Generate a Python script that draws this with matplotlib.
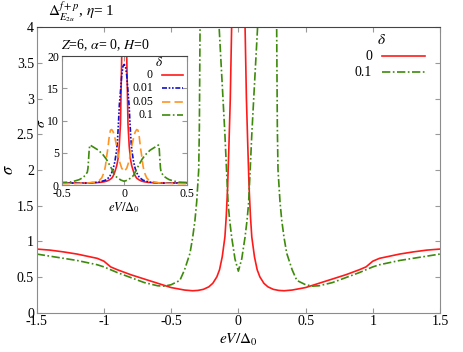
import numpy as np
import matplotlib
matplotlib.use("Agg")
import matplotlib.pyplot as plt
from matplotlib.ticker import FuncFormatter, MultipleLocator

plt.rcParams['font.family'] = ['Liberation Serif', 'DejaVu Serif']
plt.rcParams['mathtext.fontset'] = 'stix'
plt.rcParams['axes.unicode_minus'] = False

# conductance for eV/Delta0 >= 0 (curves are symmetric)
x_d0 = [0, 0.01, 0.02, 0.03, 0.04, 0.05, 0.06, 0.07, 0.08, 0.09, 0.1, 0.12, 0.14,
        0.16, 0.19, 0.22, 0.26, 0.3, 0.34, 0.4, 0.5, 0.6, 0.7, 0.8, 0.9, 0.95,
        1.0, 1.05, 1.1, 1.2, 1.3, 1.4, 1.5]
s_d0 = [80, 45, 20, 9.5, 6.0, 4.0, 3.0, 2.35, 1.75, 1.35, 1.06, 0.78, 0.6,
        0.5, 0.41, 0.36, 0.325, 0.31, 0.305, 0.315, 0.35, 0.41, 0.47, 0.53, 0.6, 0.64,
        0.72, 0.76, 0.78, 0.82, 0.85, 0.875, 0.89]

x_d001 = [0, 0.01, 0.02, 0.03, 0.039, 0.045, 0.053, 0.06, 0.075, 0.09, 0.1, 0.12,
          0.15, 0.2, 0.3, 0.4, 0.5]
s_d001 = [18.7, 18.4, 17.0, 14.5, 12.4, 10.0, 7.2, 5.5, 3.6, 2.4, 1.9, 1.2,
          0.75, 0.45, 0.3, 0.3, 0.33]

x_d005 = [0, 0.02, 0.04, 0.06, 0.08, 0.09, 0.1, 0.11, 0.12, 0.13, 0.14, 0.15,
          0.16, 0.18, 0.2, 0.25, 0.3, 0.4, 0.5]
s_d005 = [2.1, 2.6, 3.8, 6.0, 7.8, 8.3, 8.6, 8.5, 7.5, 5.8, 4.5, 3.0,
          2.0, 1.1, 0.7, 0.4, 0.3, 0.22, 0.2]

x_d01 = [0, 0.025, 0.05, 0.065, 0.076, 0.088, 0.1, 0.12, 0.143, 0.17, 0.207, 0.24,
         0.274, 0.28, 0.285, 0.29, 0.295, 0.31, 0.323, 0.34, 0.36, 0.4, 0.435, 0.5,
         0.55, 0.6, 0.7, 0.8, 0.9, 0.95, 1.0, 1.05, 1.1, 1.2, 1.3, 1.4, 1.5]
s_d01 = [0.58, 0.75, 1.06, 1.3, 1.53, 2.0, 2.5, 3.2, 4.0, 4.7, 5.4, 5.8,
         6.2, 5.6, 4.0, 2.6, 2.0, 1.55, 1.29, 1.05, 0.83, 0.6, 0.45, 0.39,
         0.37, 0.375, 0.42, 0.49, 0.56, 0.6, 0.64, 0.67, 0.69, 0.73, 0.76, 0.79, 0.82]


def both_sides(x, s):
    x = np.asarray(x, float)
    s = np.asarray(s, float)
    return np.concatenate([-x[:0:-1], x]), np.concatenate([s[:0:-1], s])


RED = '#ff1a1a'
BLUE = '#1010c8'
ORANGE = '#ff9422'
GREEN = '#3d8a0c'
styles = {
    '0': dict(color=RED, ls='-'),
    '0.01': dict(color=BLUE, dashes=(3, 1, 1, 1, 1, 1)),
    '0.05': dict(color=ORANGE, dashes=(5, 2.5)),
    '0.1': dict(color=GREEN, dashes=(5, 1.5, 1, 1.5)),
}
fmt = FuncFormatter(lambda v, p: '%g' % v)


def style_axes(ax, size):
    for side in ['left', 'bottom', 'right']:
        ax.spines[side].set_color('#8c8c8c')
    ax.spines['top'].set_color('#444444')
    ax.tick_params(direction='in', length=3.5, width=0.8, color='#999999',
                   top=True, right=True, labelsize=size, pad=2)
    ax.xaxis.set_major_formatter(fmt)
    ax.yaxis.set_major_formatter(fmt)


def manual_legend(ax, keys, x_lab, x0, x1, y_title, ys, size):
    ax.text((x_lab + x0) / 2 + 0.01, y_title, r'$\delta$', transform=ax.transAxes,
            ha='center', va='center', fontsize=size + 1)
    for k, y in zip(keys, ys):
        ax.text(x_lab, y, k, transform=ax.transAxes, ha='right', va='center', fontsize=size)
        ax.plot([x0, x1], [y, y], transform=ax.transAxes, lw=1.2, clip_on=False, **styles[k])


fig = plt.figure(figsize=(4.63, 3.52), dpi=100)

# main panel
ax = fig.add_axes([0.0793, 0.1122, 0.871, 0.810])
for k, (x, s) in [('0', (x_d0, s_d0)), ('0.1', (x_d01, s_d01))]:
    xx, ss = both_sides(x, s)
    ax.plot(xx, ss, lw=1.2, **styles[k])
ax.set_xlim(-1.5, 1.5)
ax.set_ylim(0, 4)
ax.xaxis.set_major_locator(MultipleLocator(0.5))
ax.yaxis.set_major_locator(MultipleLocator(0.5))
style_axes(ax, 10)
ax.set_xlabel(r'$eV/\Delta_0$', fontsize=11)
ax.xaxis.set_label_coords(0.5, -0.068)
ax.set_ylabel(r'$\sigma$', fontsize=12)
ax.yaxis.set_label_coords(-0.05, 0.5)
manual_legend(ax, ['0', '0.1'], 0.832, 0.856, 0.963, 0.955, [0.899, 0.843], 10)
ax.text(0.06, 0.965, r'$Z$=6, $\alpha$= 0, $H$=0', transform=ax.transAxes,
        ha='left', va='top', fontsize=10)
fig.text(0.104, 0.955, r'$\Delta^{f+p}_{E_{2u}}$, $\eta$= 1', ha='left', va='baseline', fontsize=11)

# inset
ins = fig.add_axes([0.1333, 0.4744, 0.27, 0.3665])
for k, (x, s) in [('0', (x_d0, s_d0)), ('0.01', (x_d001, s_d001)),
                  ('0.05', (x_d005, s_d005)), ('0.1', (x_d01, s_d01))]:
    xx, ss = both_sides(x, s)
    ins.plot(xx, ss, lw=1.2, **styles[k])
ins.set_xlim(-0.5, 0.5)
ins.set_ylim(0, 20)
ins.xaxis.set_major_locator(MultipleLocator(0.5))
ins.yaxis.set_major_locator(MultipleLocator(5))
style_axes(ins, 8.5)
ins.set_xlabel(r'$eV/\Delta_0$', fontsize=9)
ins.xaxis.set_label_coords(0.5, -0.115)
ins.set_ylabel(r'$\sigma$', fontsize=10)
ins.yaxis.set_label_coords(-0.11, 0.48)
manual_legend(ins, ['0', '0.01', '0.05', '0.1'], 0.73, 0.80, 0.97, 0.95,
              [0.853, 0.752, 0.643, 0.543], 8.5)

fig.savefig('out.png', dpi=100)
